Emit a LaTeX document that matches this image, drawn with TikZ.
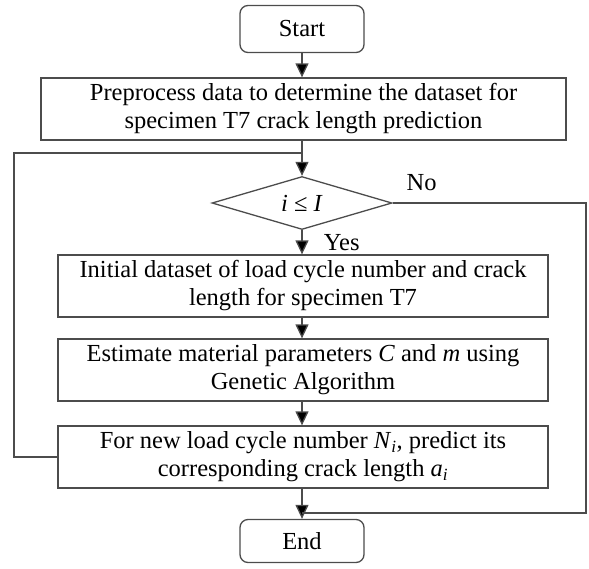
\documentclass[tikz,border=0pt]{standalone}
\usepackage{amsmath}
\usepackage{amssymb}
\usepackage{fontspec}
\setmainfont{Liberation Serif}
\usetikzlibrary{shapes.geometric,arrows.meta}

\newcommand{\var}[1]{\textit{#1}}

\begin{document}
\begin{tikzpicture}[x=1pt,y=-1pt,
        every node/.style={font=\fontsize{24.5}{28}\selectfont},
        line/.style={draw=black!70,line width=1.3pt},
        arr/.style={line,-{Triangle[length=14pt,width=13pt,fill=black]}},
        term/.style={line,rounded corners=8pt,minimum width=124pt,minimum height=47pt,inner sep=0pt},
        proc/.style={line,minimum width=490pt,minimum height=62pt,inner sep=0pt,align=center},
        cond/.style={line,diamond,aspect=3.4,minimum width=180pt,minimum height=53pt,inner sep=0pt}]
        \useasboundingbox (0,0) rectangle (589,568);
        \path (302,29) node[term](start) {Start}
            (303.5,109) node[proc,minimum width=525pt](prep) {Preprocess data to determine the dataset for\\specimen T7 crack length prediction}
            (302,203) node[cond](cond) {\var{i} ≤ \var{I}}
            (303,286) node[proc](init) {Initial dataset of load cycle number and crack\\length for specimen T7}
            (303,370) node[proc](est) {Estimate material parameters \var{C} and \var{m} using\\Genetic Algorithm}
            (303,457) node[proc](pred) {For new load cycle number \var{N}\textsubscript{\var{i}}, predict its\\corresponding crack length \var{a}\textsubscript{\var{i}}}
            (302,541) node[term,minimum height=43pt](stop) {End};
        \coordinate (top) at (302,153);
        \coordinate (lft) at (14,457);
        \coordinate (join) at (302,513);
        \coordinate (rgt) at (586,203);
        \draw[arr] (start) -- (start|-prep.north);
        \draw[arr] (prep.south-|cond) -- (cond);
        \draw[arr] (cond) -- node[right,pos=0.5,xshift=18pt] {Yes} (cond|-init.north);
        \draw[arr] (init.south-|302,0) -- (est.north-|302,0);
        \draw[arr] (est.south-|302,0) -- (pred.north-|302,0);
        \draw[arr] (pred.south-|302,0) -- (stop);
        \draw[line] (pred.west) -- (lft) |- (top);
        \draw[line] (cond.east) -- node[above,pos=0.15,yshift=8pt] {No} (rgt) |- (join);
    \end{tikzpicture}
\end{document}
